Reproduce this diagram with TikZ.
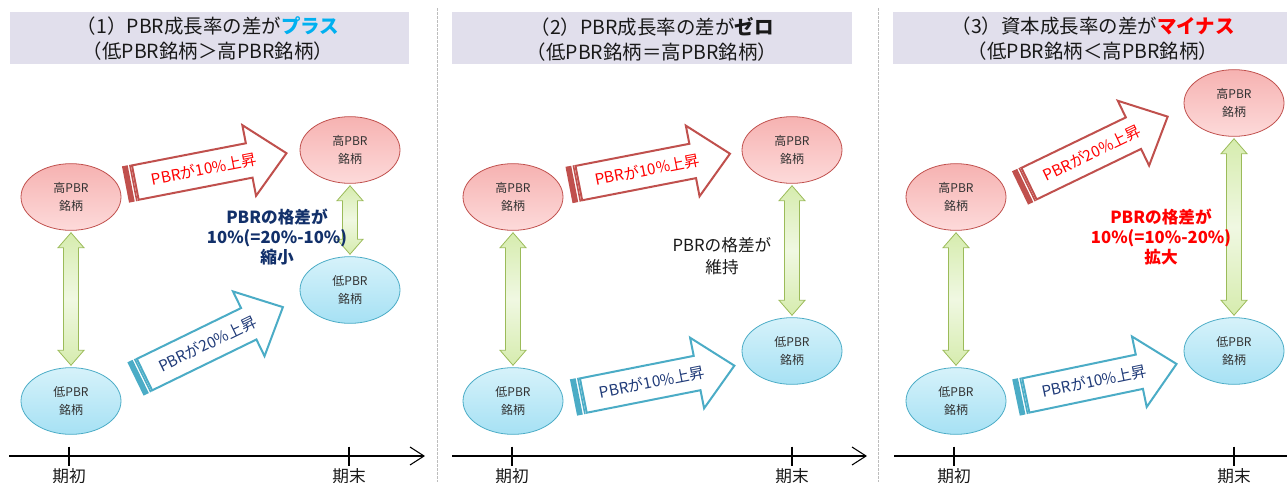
\documentclass[tikz,border=0pt]{standalone}
\usepackage{fontspec}
\setmainfont{Noto Sans CJK JP}
\usetikzlibrary{shapes.geometric,calc}
\definecolor{redb}{HTML}{C0504D}
\definecolor{blueb}{HTML}{4BACC6}
\definecolor{navyt}{HTML}{1F3A78}
\definecolor{navyd}{HTML}{12306A}
\definecolor{greenb}{HTML}{9BBB59}
\definecolor{titlebg}{HTML}{E1DFEC}
\definecolor{cyant}{HTML}{00B0F0}
\definecolor{redt}{HTML}{FF0000}
\definecolor{hitop}{HTML}{F6B2B1}
\definecolor{hibot}{HTML}{FDDADA}
\definecolor{lotop}{HTML}{D6F2FA}
\definecolor{lobot}{HTML}{A6E1F4}
\definecolor{grtop}{HTML}{D6ECAE}
\definecolor{grmid}{HTML}{F0F8E2}
\definecolor{divg}{HTML}{BDBDBD}
\tikzset{
  stock/.style={ellipse, minimum width=75pt, minimum height=50pt, inner sep=0pt,
    line width=0.6pt, align=center, font=\fontsize{9}{13.5}\selectfont, text=black!80},
  histock/.style={stock, draw=redb, top color=hitop, bottom color=hibot},
  lostock/.style={stock, draw=blueb, top color=lotop, bottom color=lobot},
  titlebox/.style={fill=titlebg, draw=none},
  titletext/.style={font=\fontsize{14.6}{18.75}\selectfont, align=center, text=black!90},
  gaptext/.style={font=\fontsize{12.5}{15}\selectfont\bfseries, align=center},
  gapplain/.style={font=\fontsize{12.5}{16.5}\selectfont, align=center, text=black!90},
  arrtext/.style={font=\fontsize{11.5}{13}\selectfont},
  axisline/.style={line width=1.6pt, black},
  chevron/.style={line width=0.8pt, black},
  ticklabel/.style={font=\fontsize{12.5}{14}\selectfont, text=black!90},
  divider/.style={divg, line width=1pt, dash pattern=on 2pt off 1pt},
  dblgreen/.style={draw=greenb, line width=0.6pt, top color=grtop, bottom color=grtop, middle color=grmid}
}
% block arrow: #1 name, #2 tail centre, #3 angle, #4 border colour, #5 text colour, #6 text
\newcommand{\blkarrow}[6]{%
  \begin{scope}[shift={#2}, rotate=#3]
    \draw[line width=1.5pt, draw=#4, fill=white, line join=miter]
      (10,-17.5) -- (126,-17.5) -- (126,-36) -- (164,0) -- (126,36) -- (126,17.5) -- (10,17.5) -- cycle;
    \fill[#4] (0,-18.5) rectangle (5.8,18.5);
    \fill[#4] (7.2,-18.5) rectangle (8.8,18.5);
    \node[arrtext, rotate=#3, text=#5, inner sep=0pt] (#1) at (80,0) {#6};
  \end{scope}}
% green double arrow between two named nodes (top node, bottom node)
\newcommand{\dblarrow}[2]{%
  \path[dblgreen] let \p1=(#1.south), \p2=(#2.north) in
    (\x1,\y1-1.5pt) -- (\x1+9.75pt,\y1-12.75pt) -- (\x1+5.6pt,\y1-12.75pt)
    -- (\x1+5.6pt,\y2+12.75pt) -- (\x1+9.75pt,\y2+12.75pt) -- (\x1,\y2+1.5pt)
    -- (\x1-9.75pt,\y2+12.75pt) -- (\x1-5.6pt,\y2+12.75pt)
    -- (\x1-5.6pt,\y1-12.75pt) -- (\x1-9.75pt,\y1-12.75pt) -- cycle;}
\begin{document}
\begin{tikzpicture}[x=0.75pt, y=-0.75pt]
\useasboundingbox (0,0) rectangle (1287,482);

% dividers
\draw[divider] (437.5,8) -- (437.5,482);
\draw[divider] (878.5,8) -- (878.5,482);

% title boxes
\fill[titlebox] (10,12) rectangle (409,64);
\fill[titlebox] (452,12) rectangle (852,64);
\fill[titlebox] (893,12) rectangle (1293,64);
\node[titletext] (t1) at (208,39) {（1）PBR成長率の差が\textcolor{cyant}{\bfseries プラス}\\（低PBR銘柄＞高PBR銘柄）};
\node[titletext] (t2) at (652,39) {（2）PBR成長率の差が{\bfseries ゼロ}\\（低PBR銘柄＝高PBR銘柄）};
\node[titletext] (t3) at (1093,39) {（3）資本成長率の差が\textcolor{redt}{\bfseries マイナス}\\（低PBR銘柄＜高PBR銘柄）};

% ---------- panel 1 ----------
\node[histock] (p1hs) at (71,197) {高PBR\\銘柄};
\node[lostock] (p1ls) at (71,401) {低PBR\\銘柄};
\node[histock] (p1he) at (350,150) {高PBR\\銘柄};
\node[lostock] (p1le) at (350,290) {低PBR\\銘柄};
\dblarrow{p1hs}{p1ls}
\dblarrow{p1he}{p1le}
\blkarrow{p1ra}{(125.5,184.5)}{11}{redb}{redt}{PBRが10\%上昇}
\blkarrow{p1ba}{(135.5,379)}{26}{blueb}{navyt}{PBRが20\%上昇}
\node[gaptext, text=navyd] (p1gap) at (277,237) {PBRの格差が\\10\%(=20\%-10\%)\\縮小};

% ---------- panel 2 ----------
\node[histock] (p2hs) at (513,197) {高PBR\\銘柄};
\node[lostock] (p2ls) at (513,401) {低PBR\\銘柄};
\node[histock] (p2he) at (792,150) {高PBR\\銘柄};
\node[lostock] (p2le) at (792,351) {低PBR\\銘柄};
\dblarrow{p2hs}{p2ls}
\dblarrow{p2he}{p2le}
\blkarrow{p2ra}{(569,185)}{11}{redb}{redt}{PBRが10\%上昇}
\blkarrow{p2ba}{(573.5,397.5)}{11.2}{blueb}{navyt}{PBRが10\%上昇}
\node[gapplain] (p2gap) at (722,256) {PBRの格差が\\維持};

% ---------- panel 3 ----------
\node[histock] (p3hs) at (956,197) {高PBR\\銘柄};
\node[lostock] (p3ls) at (956,401) {低PBR\\銘柄};
\node[histock] (p3he) at (1234,103) {高PBR\\銘柄};
\node[lostock] (p3le) at (1234,351) {低PBR\\銘柄};
\dblarrow{p3hs}{p3ls}
\dblarrow{p3he}{p3le}
\blkarrow{p3ra}{(1020,188)}{25.8}{redb}{redt}{PBRが20\%上昇}
\blkarrow{p3ba}{(1016,397.5)}{11.8}{blueb}{navyt}{PBRが10\%上昇}
\node[gaptext, text=redt] (p3gap) at (1161,237) {PBRの格差が\\10\%(=10\%-20\%)\\拡大};

% ---------- axes ----------
\coordinate (a1s) at (9,456);   \coordinate (a1e) at (424,456);
\coordinate (a2s) at (452,456); \coordinate (a2e) at (866,456);
\coordinate (a3s) at (894,456); \coordinate (a3e) at (1295,456);
\draw[axisline] (a1s) -- ($(a1e)+(-1.5,0)$);
\draw[axisline] (a2s) -- ($(a2e)+(-1.5,0)$);
\draw[axisline] (a3s) -- (a3e);
\draw[chevron] ($(a1e)+(-14,-9)$) -- (a1e) -- ($(a1e)+(-14,9)$);
\draw[chevron] ($(a2e)+(-14,-9)$) -- (a2e) -- ($(a2e)+(-14,9)$);
\foreach \n/\x in {k1a/69, k1b/349, k2a/512, k2b/792, k3a/954, k3b/1234}{
  \coordinate (\n) at (\x,456);
  \draw[axisline] ($(\n)+(0,-9.5)$) -- ($(\n)+(0,9.5)$);
}
\node[ticklabel] (l1a) at (69,476) {期初};
\node[ticklabel] (l1b) at (349,476) {期末};
\node[ticklabel] (l2a) at (512,476) {期初};
\node[ticklabel] (l2b) at (792,476) {期末};
\node[ticklabel] (l3a) at (954,476) {期初};
\node[ticklabel] (l3b) at (1234,476) {期末};
\end{tikzpicture}
\end{document}
